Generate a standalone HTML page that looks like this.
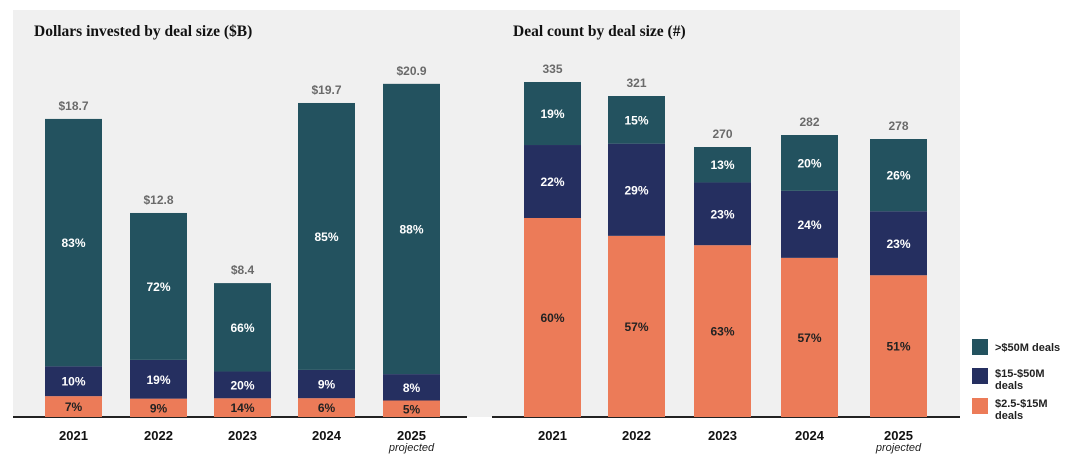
<!DOCTYPE html>
<html><head><meta charset="utf-8"><style>
body{margin:0;width:1080px;height:465px;background:#fff;overflow:hidden;font-family:"Liberation Sans",sans-serif}
</style></head><body>
<svg id="c" width="1080" height="465" font-family="Liberation Sans, sans-serif">
<rect x="13" y="10" width="947" height="407" fill="#f0f0f0"/>
<text x="34" y="36" style="font-family:'Liberation Serif',serif" font-weight="bold" font-size="15.5" fill="#111">Dollars invested by deal size ($B)</text>
<text x="513" y="36" style="font-family:'Liberation Serif',serif" font-weight="bold" font-size="15.5" fill="#111">Deal count by deal size (#)</text>
<line x1="13" y1="417" x2="467" y2="417" stroke="#222" stroke-width="2"/>
<line x1="492" y1="417" x2="960" y2="417" stroke="#222" stroke-width="2"/>
<g>
<rect x="972" y="339" width="16" height="16" fill="#23525f"/>
<text x="995" y="351" font-size="11" font-weight="bold" fill="#222">&gt;$50M deals</text>
<rect x="972" y="368" width="16" height="16" fill="#252f60"/>
<text x="995" y="377" font-size="11" font-weight="bold" fill="#222">$15-$50M</text>
<text x="995" y="389" font-size="11" font-weight="bold" fill="#222">deals</text>
<rect x="972" y="398" width="16" height="16" fill="#ec7b58"/>
<text x="995" y="407" font-size="11" font-weight="bold" fill="#222">$2.5-$15M</text>
<text x="995" y="419" font-size="11" font-weight="bold" fill="#222">deals</text>
</g>
</svg>
<script>
const years=["2021","2022","2023","2024","2025"];
const dollarTotals=[18.7,12.8,8.4,19.7,20.9];
const dollarTotalLabels=["$18.7","$12.8","$8.4","$19.7","$20.9"];
const dollarSmall=[7,9,14,6,5];
const dollarMid=[10,19,20,9,8];
const dollarLarge=[83,72,66,85,88];
const countTotals=[335,321,270,282,278];
const countSmall=[60,57,63,57,51];
const countMid=[22,29,23,24,23];
const countLarge=[19,15,13,20,26];
const colors=["#ec7b58","#252f60","#23525f"];
const textColors=["#222","#fff","#fff"];
const segNames=["small","mid","large"];
const svg=document.getElementById('c');
const NS="http://www.w3.org/2000/svg";
const base=417;
function mk(tag,attrs){const e=document.createElementNS(NS,tag);for(const k in attrs)e.setAttribute(k,attrs[k]);svg.appendChild(e);return e;}
function draw(prefix,totals,labels,segs,xs,w,yScale){
  totals.forEach((t,i)=>{
    const h=yScale(t);
    let y=base;
    const sum=segs[0][i]+segs[1][i]+segs[2][i];
    segs.forEach((s,j)=>{
      const sh=h*s[i]/sum;
      y-=sh;
      const r=mk('rect',{x:xs[i],y:y,width:w,height:sh,fill:colors[j]});
      
      
      const tx=mk('text',{x:xs[i]+w/2,y:y+sh/2+4.5,'text-anchor':'middle','font-size':'12','font-weight':'bold',fill:textColors[j]});
      tx.textContent=s[i]+'%';
      
      
    });
    const tl=mk('text',{x:xs[i]+w/2,y:base-h-9,'text-anchor':'middle','font-size':'12','font-weight':'bold',fill:'#6a6a6a'});
    tl.textContent=labels[i];
    
    
    const yl=mk('text',{x:xs[i]+w/2,y:440,'text-anchor':'middle','font-size':'13','font-weight':'bold',fill:'#111'});
    yl.textContent=years[i];
    
    
    if(i===4){
      const p=mk('text',{x:xs[i]+w/2,y:451,'text-anchor':'middle','font-size':'11','font-style':'italic',fill:'#222'});
      p.textContent='projected';
      
      
    }
  });
}
draw('dollars',dollarTotals,dollarTotalLabels,[dollarSmall,dollarMid,dollarLarge],[45,130,214,298,383],57,v=>v*15.94);
draw('count',countTotals,countTotals.map(String),[countSmall,countMid,countLarge],[524,608,694,781,870],57,v=>v*1.0);
</script>
</body></html>
